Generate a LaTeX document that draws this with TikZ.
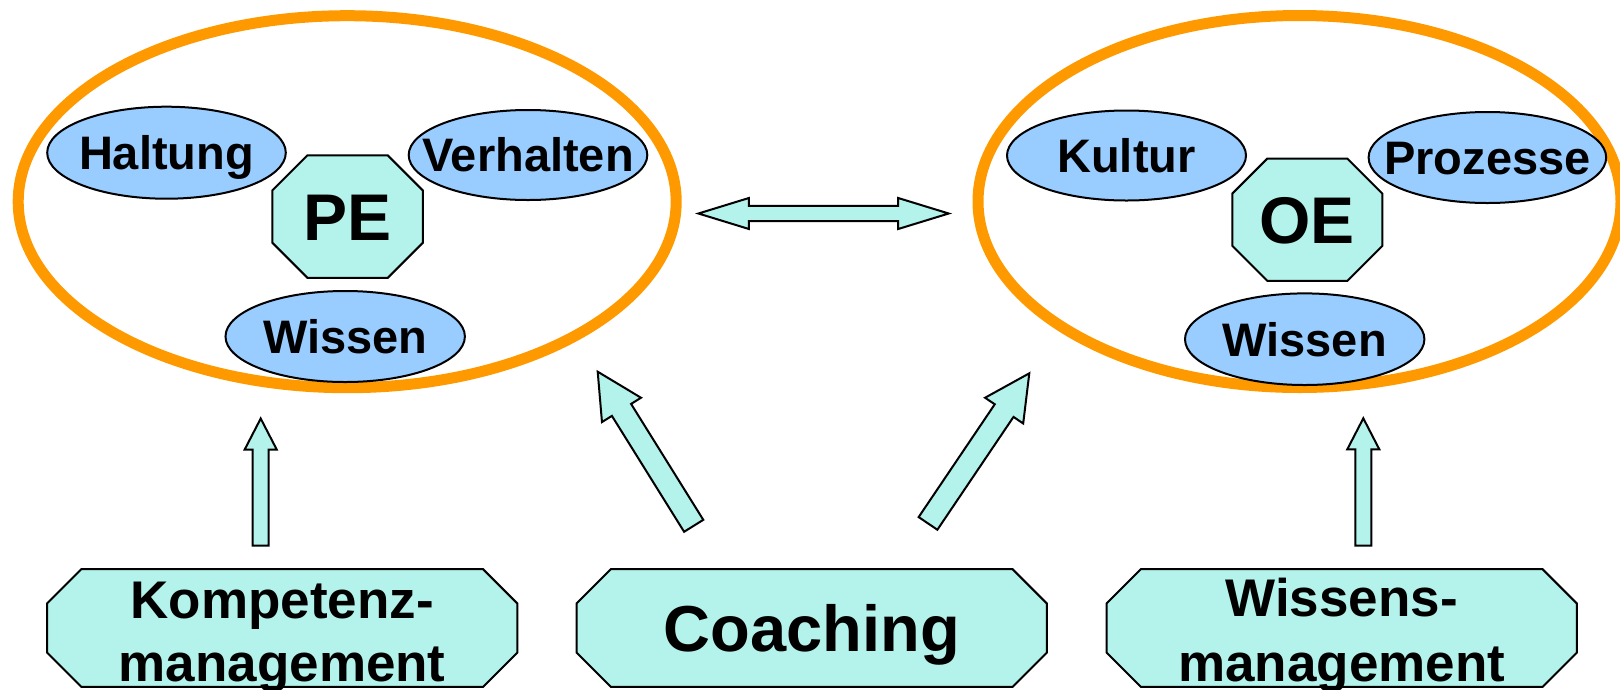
\documentclass[tikz,border=0pt]{standalone}
\usepackage{fontspec}
\setmainfont{Liberation Sans}
\usetikzlibrary{calc,shapes.geometric,backgrounds}
\definecolor{ora}{RGB}{255,153,0}
\definecolor{lblue}{RGB}{153,204,255}
\definecolor{aqua}{RGB}{179,243,235}
\tikzset{
  bigell/.style={ellipse, draw=ora, line width=11pt, inner sep=0pt},
  smallell/.style={ellipse, draw=black, line width=2pt, fill=lblue, inner sep=0pt},
  elltext/.style={inner sep=0pt, font=\fontsize{47}{50}\selectfont\bfseries,
    text height=33.8pt, text depth=0pt},
  octtext/.style={rectangle, inner sep=0pt, text depth=0pt},
  octline/.style={draw=black, line width=2pt, fill=aqua},
  linetext/.style={inner sep=0pt, font=\fontsize{53}{56}\selectfont\bfseries},
  barrow/.style={draw=black, line width=2pt, fill=aqua, line join=miter},
}
\newcommand\octobox[2]{%
  \begin{scope}[on background layer]
  \draw[octline] ([xshift=#2]#1.north west) -- ([xshift=-#2]#1.north east)
    -- ([yshift=-#2]#1.north east) -- ([yshift=#2]#1.south east)
    -- ([xshift=-#2]#1.south east) -- ([xshift=#2]#1.south west)
    -- ([yshift=#2]#1.south west) -- ([yshift=-#2]#1.north west) -- cycle;
  \end{scope}}
\newcommand\blockarrow[5]{% start, tip, shaft half, head half, head length
  \coordinate (#1hb) at ($(#2)!#5!(#1)$);
  \draw[barrow] ($(#1)!#3!90:(#2)$) -- ($(#1hb)!#3!-90:(#1)$)
    -- ($(#1hb)!#4!-90:(#1)$) -- (#2) -- ($(#1hb)!#4!90:(#1)$)
    -- ($(#1hb)!#3!90:(#1)$) -- ($(#1)!#3!-90:(#2)$) -- cycle;}
\newcommand\dblarrow[5]{% tip A, tip B, shaft half, head half, head length
  \coordinate (#1hb) at ($(#1)!#5!(#2)$);
  \coordinate (#2hb) at ($(#2)!#5!(#1)$);
  \draw[barrow] (#1) -- ($(#1hb)!#4!90:(#2)$) -- ($(#1hb)!#3!90:(#2)$)
    -- ($(#2hb)!#3!-90:(#1)$) -- ($(#2hb)!#4!-90:(#1)$) -- (#2)
    -- ($(#2hb)!#4!90:(#1)$) -- ($(#2hb)!#3!90:(#1)$)
    -- ($(#1hb)!#3!-90:(#2)$) -- ($(#1hb)!#4!-90:(#2)$) -- cycle;}
\begin{document}
\begin{tikzpicture}[x=1pt,y=-1pt]
\useasboundingbox (0,0) rectangle (1620,689);
% big orange ellipses
\node[bigell, minimum width=658pt, minimum height=372pt] (pebig) at (347.2,201.7) {};
\node[bigell, minimum width=643pt, minimum height=372pt] (oebig) at (1299.5,201.5) {};
% PE side
\node[smallell, minimum width=238.6pt, minimum height=92pt] (halt) at (166.5,152.7) {};
\node[elltext] (haltt) at (halt.center) {Haltung};
\node[smallell, minimum width=238.6pt, minimum height=90pt] (verh) at (528,155) {};
\node[elltext] (verht) at (verh.center) {Verhalten};
\node[smallell, minimum width=239.4pt, minimum height=91pt] (wisl) at (345.2,336.5) {};
\node[elltext] (wislt) at (wisl.center) {Wissen};
\node[octtext, minimum width=150pt, minimum height=122pt,
  font=\fontsize{66}{70}\selectfont\bfseries, text height=47.5pt] (pe) at (347.6,216.6) {PE};
\octobox{pe}{35pt}
% OE side
\node[smallell, minimum width=239pt, minimum height=90pt] (kult) at (1126.5,155.5) {};
\node[elltext] (kultt) at (kult.center) {Kultur};
\node[smallell, minimum width=237.6pt, minimum height=91pt] (proz) at (1487.4,157.5) {};
\node[elltext] (prozt) at (proz.center) {Prozesse};
\node[smallell, minimum width=239.4pt, minimum height=91.6pt] (wisr) at (1304.7,339.2) {};
\node[elltext] (wisrt) at (wisr.center) {Wissen};
\node[octtext, minimum width=149.5pt, minimum height=122pt,
  font=\fontsize{66}{70}\selectfont\bfseries, text height=47.5pt] (oe) at (1307.3,219.7) {OE};
\octobox{oe}{35pt}
% bottom boxes
\node[octtext, minimum width=470pt, minimum height=117.4pt] (komp) at (282.2,628) {};
\octobox{komp}{34.4pt}
\node[linetext, anchor=base] (kompa) at (282.2,618) {Kompetenz-};
\node[linetext, anchor=base] (kompb) at (282.2,681) {management};
\node[octtext, minimum width=470pt, minimum height=117.4pt,
  font=\fontsize{65}{68}\selectfont\bfseries, text height=46.8pt] (coach) at (811.7,628) {Coaching};
\octobox{coach}{34.4pt}
\node[octtext, minimum width=470pt, minimum height=117.4pt] (wm) at (1341.7,628) {};
\octobox{wm}{34.4pt}
\node[linetext, anchor=base] (wma) at (1341.7,616) {Wissens-};
\node[linetext, anchor=base] (wmb) at (1341.7,681) {management};
% arrows
\coordinate (dA) at (698.4,213.5);
\coordinate (dB) at (948.7,213.5);
\dblarrow{dA}{dB}{7.7pt}{15.5pt}{50.5pt}
\coordinate (vLs) at (260.7,545.5);
\coordinate (vLt) at (260.7,418.5);
\blockarrow{vLs}{vLt}{8pt}{16pt}{31pt}
\coordinate (vRs) at (1363.3,545.7);
\coordinate (vRt) at (1363.3,418.3);
\blockarrow{vRs}{vRt}{8pt}{16pt}{31pt}
\coordinate (gLs) at (693.7,525.8);
\coordinate (gLt) at (597.7,371.7);
\blockarrow{gLs}{gLt}{11.3pt}{23pt}{45pt}
\coordinate (gRs) at (928,523.4);
\coordinate (gRt) at (1029.3,373.3);
\blockarrow{gRs}{gRt}{11.3pt}{23pt}{45pt}
\end{tikzpicture}
\end{document}
